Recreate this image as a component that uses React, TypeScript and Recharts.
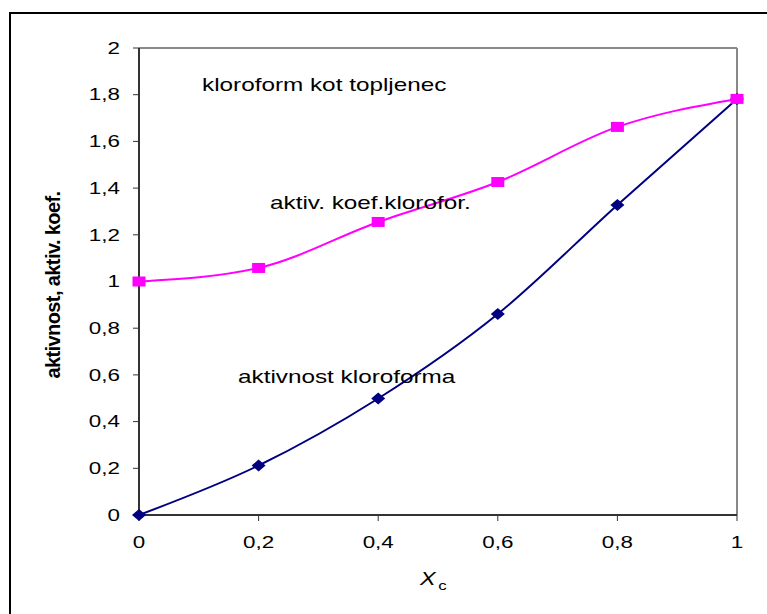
import React from 'react';
import { LineChart, Line, XAxis, YAxis, CartesianGrid } from 'recharts';

const xValues = [0, 0.2, 0.4, 0.6, 0.8, 1];
const koeficient = [1.0, 1.058, 1.255, 1.426, 1.662, 1.782];
const aktivnost = [0, 0.212, 0.499, 0.861, 1.328, 1.782];
const yTicks = [0, 0.2, 0.4, 0.6, 0.8, 1, 1.2, 1.4, 1.6, 1.8, 2];

const chartData = xValues.map((x, i) => ({ x, koef: koeficient[i], akt: aktivnost[i] }));

const FONT = '"Liberation Sans", Arial, sans-serif';
const fmt = (v: number) => String(Math.round(v * 10) / 10).replace('.', ',');

function YTick(props: any) {
  const { x, y, payload } = props;
  return (
    <text transform={`translate(${x},${y}) scale(1.4,1)`} textAnchor="end" dy="0.36em"
      fontSize={16} fontFamily={FONT} fill="#000">
      {fmt(payload.value)}
    </text>
  );
}

function XTick(props: any) {
  const { x, y, payload } = props;
  return (
    <text transform={`translate(${x},${y}) scale(1.4,1)`} textAnchor="middle" dy="0.71em"
      fontSize={16} fontFamily={FONT} fill="#000">
      {fmt(payload.value)}
    </text>
  );
}

function Square(props: any) {
  const { cx, cy } = props;
  if (cx == null || cy == null) return null;
  return <rect x={cx - 6.5} y={cy - 5} width={13} height={10} fill="#FF00FF" />;
}

function Diamond(props: any) {
  const { cx, cy } = props;
  if (cx == null || cy == null) return null;
  return <polygon points={`${cx - 7},${cy} ${cx},${cy - 6} ${cx + 7},${cy} ${cx},${cy + 6}`} fill="#000080" />;
}

function Note({ x, y, children }: { x: number; y: number; children: React.ReactNode }) {
  return (
    <text transform={`translate(${x},${y}) scale(1.35,1)`} fontSize={18} fontFamily={FONT} fill="#000">
      {children}
    </text>
  );
}

// grey frame only on the top and right edge of the plot area
const topEdge = ({ offset }: any) => [offset.top];
const rightEdge = ({ offset }: any) => [offset.left + offset.width];

export default function App() {
  return (
    <div style={{ position: 'absolute', left: 0, top: 0, width: 767, height: 614, overflow: 'hidden', background: '#fff' }}>
      <div style={{ position: 'absolute', left: 9, top: 12, width: 900, height: 900, border: '2px solid #000' }} />
      <div style={{ position: 'absolute', left: 0, top: 0 }}>
        <LineChart width={767} height={614} data={chartData} margin={{ top: 48, right: 30, bottom: 69, left: 0 }}>
          <CartesianGrid stroke="#888" strokeWidth={2}
            horizontalCoordinatesGenerator={topEdge} verticalCoordinatesGenerator={rightEdge} />
          <XAxis dataKey="x" type="number" domain={[0, 1]} ticks={xValues} interval={0} height={30}
            axisLine={{ stroke: '#333', strokeWidth: 2 }} tickLine={{ stroke: '#333' }}
            tickSize={6} tickMargin={16} tick={<XTick />} />
          <YAxis type="number" domain={[0, 2]} ticks={yTicks} interval={0} width={139}
            axisLine={{ stroke: '#333', strokeWidth: 2 }} tickLine={{ stroke: '#333' }}
            tickSize={6} tickMargin={13} tick={<YTick />} />
          <Line dataKey="akt" type="monotone" stroke="#000080" strokeWidth={2}
            dot={<Diamond />} activeDot={false} isAnimationActive={false} />
          <Line dataKey="koef" type="monotone" stroke="#FF00FF" strokeWidth={2}
            dot={<Square />} activeDot={false} isAnimationActive={false} />
        </LineChart>
      </div>
      <svg width={767} height={614} style={{ position: 'absolute', left: 0, top: 0, pointerEvents: 'none' }}>
        <Note x={202} y={91}>kloroform kot topljenec</Note>
        <Note x={270} y={209}>aktiv. koef.klorofor.</Note>
        <Note x={238} y={383}>aktivnost kloroforma</Note>
        <text transform="translate(60,285) rotate(-90)" textAnchor="middle" fontSize={20}
          fontWeight="bold" letterSpacing={-0.6} fontFamily={FONT} fill="#000">
          aktivnost, aktiv. koef.
        </text>
        <text transform="translate(420,585) scale(1.3,1)" fontSize={18} fontStyle="italic" fontFamily={FONT} fill="#000">
          X<tspan fontSize={13} fontStyle="normal" dx={2} dy={5}>c</tspan>
        </text>
      </svg>
    </div>
  );
}
